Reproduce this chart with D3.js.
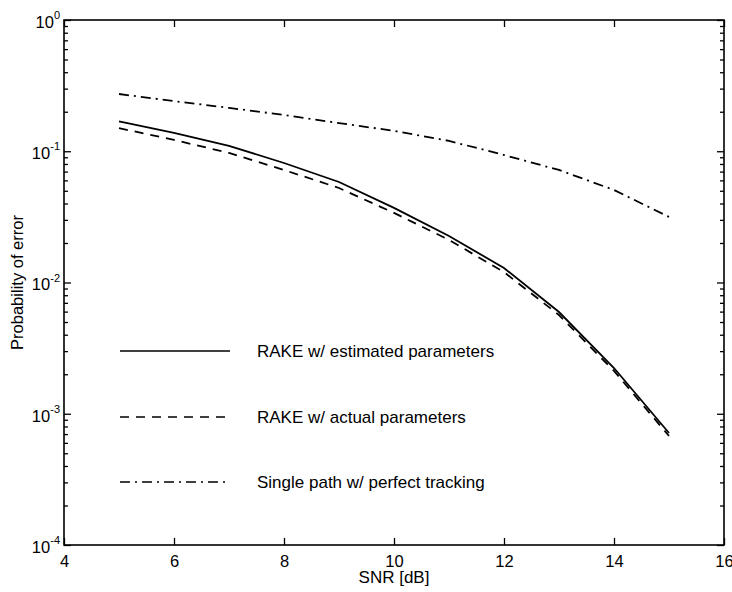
<!DOCTYPE html>
<html>
<head>
<meta charset="utf-8">
<script src="https://cdn.jsdelivr.net/npm/d3@7"></script>
<style>
  body { margin: 0; background: #fff; }
  svg { display: block; }
  text { font-family: "Liberation Sans", Arial, sans-serif; fill: #000; }
</style>
</head>
<body>
<svg id="chart" width="732" height="592"></svg>
<script>
// SNR values (dB) and error probabilities
var snr = [5, 6, 7, 8, 9, 10, 11, 12, 13, 14, 15];
var rakeEstimated = [0.169, 0.138, 0.110, 0.0814, 0.0583, 0.0370, 0.0226, 0.0129, 0.00596, 0.00223, 0.000713];
var rakeActual = [0.150, 0.122, 0.097, 0.072, 0.0525, 0.0339, 0.0211, 0.0120, 0.00565, 0.00212, 0.000677];
var singlePath = [0.273, 0.241, 0.214, 0.189, 0.164, 0.143, 0.120, 0.0936, 0.072, 0.0507, 0.0316];

var xTicks = [4, 6, 8, 10, 12, 14, 16];
var yExponents = [0, -1, -2, -3, -4];
var legendLabels = ['RAKE w/ estimated parameters', 'RAKE w/ actual parameters', 'Single path w/ perfect tracking'];
var dashStyles = [null, '9,7', '10,5,2,5'];

(function() {
    var svg = d3.select('#chart');
    var pLeft = 64, pRight = 724, pTop = 20, pBottom = 545;
    var font = '"Liberation Sans", Arial, sans-serif';

    var x = d3.scaleLinear().domain([4, 16]).range([pLeft, pRight]);
    var y = d3.scaleLog().domain([1e-4, 1]).range([pBottom, pTop]);

    // minor log ticks 2..9 per decade
    var minorTicks = [];
    yExponents.slice(1).forEach(function(e) {
        for (var k = 2; k <= 9; k++) minorTicks.push(k * Math.pow(10, e));
    });
    var majorTicks = yExponents.map(function(e) { return Math.pow(10, e); });

    function styleAxis(g) {
        g.select('.domain').remove();
        g.selectAll('line').attr('stroke', '#000').attr('stroke-width', 1.3);
    }

    // bottom axis (ticks point inward)
    svg.append('g')
        .attr('transform', 'translate(0,' + pBottom + ')')
        .call(d3.axisBottom(x).tickValues(xTicks).tickSize(-7).tickPadding(10).tickFormat(d3.format('d')))
        .call(styleAxis)
        .selectAll('text')
        .attr('font-size', 16.5)
        .attr('font-family', font);

    // top axis ticks only
    svg.append('g')
        .attr('transform', 'translate(0,' + pTop + ')')
        .call(d3.axisTop(x).tickValues(xTicks).tickSize(-7).tickFormat(''))
        .call(styleAxis);

    // left axis major ticks with 10^n labels
    var leftAxis = svg.append('g')
        .attr('transform', 'translate(' + pLeft + ',0)')
        .call(d3.axisLeft(y).tickValues(majorTicks).tickSize(-7).tickPadding(6).tickFormat(''))
        .call(styleAxis);

    leftAxis.selectAll('.tick').each(function(d) {
        var t = d3.select(this).select('text')
            .attr('font-size', 16.5)
            .attr('font-family', font)
            .attr('x', -4)
            .attr('dy', '0.45em');
        t.append('tspan').text('10');
        t.append('tspan')
            .attr('font-size', 11)
            .attr('dy', '-0.8em')
            .text(Math.round(Math.log10(d)));
    });

    svg.append('g')
        .attr('transform', 'translate(' + pLeft + ',0)')
        .call(d3.axisLeft(y).tickValues(minorTicks).tickSize(-4).tickFormat(''))
        .call(styleAxis);

    // right axis ticks
    svg.append('g')
        .attr('transform', 'translate(' + pRight + ',0)')
        .call(d3.axisRight(y).tickValues(majorTicks).tickSize(-7).tickFormat(''))
        .call(styleAxis);
    svg.append('g')
        .attr('transform', 'translate(' + pRight + ',0)')
        .call(d3.axisRight(y).tickValues(minorTicks).tickSize(-4).tickFormat(''))
        .call(styleAxis);

    // frame
    svg.append('rect')
        .attr('x', pLeft).attr('y', pTop)
        .attr('width', pRight - pLeft).attr('height', pBottom - pTop)
        .attr('fill', 'none').attr('stroke', '#000').attr('stroke-width', 1.6);

    // curves
    var line = d3.line()
        .x(function(d) { return x(d[0]); })
        .y(function(d) { return y(d[1]); });

    [rakeEstimated, rakeActual, singlePath].forEach(function(series, i) {
        svg.append('path')
            .datum(d3.zip(snr, series))
            .attr('d', line)
            .attr('fill', 'none')
            .attr('stroke', '#000')
            .attr('stroke-width', 1.8)
            .attr('stroke-dasharray', dashStyles[i]);
    });

    // legend drawn inside the axes
    var legendY = [351, 417, 482];
    legendLabels.forEach(function(label, i) {
        svg.append('line')
            .attr('x1', 120).attr('x2', 230)
            .attr('y1', legendY[i]).attr('y2', legendY[i])
            .attr('stroke', '#000')
            .attr('stroke-width', 1.3)
            .attr('stroke-dasharray', dashStyles[i]);
        svg.append('text')
            .attr('x', 257).attr('y', legendY[i])
            .attr('dy', '0.35em')
            .attr('font-size', 17)
            .text(label);
    });

    // axis titles
    svg.append('text')
        .attr('x', (pLeft + pRight) / 2).attr('y', 583)
        .attr('text-anchor', 'middle')
        .attr('font-size', 17)
        .text('SNR [dB]');

    svg.append('text')
        .attr('transform', 'translate(23,' + ((pTop + pBottom) / 2) + ') rotate(-90)')
        .attr('text-anchor', 'middle')
        .attr('font-size', 16.5)
        .text('Probability of error');
})();
</script>
</body>
</html>
